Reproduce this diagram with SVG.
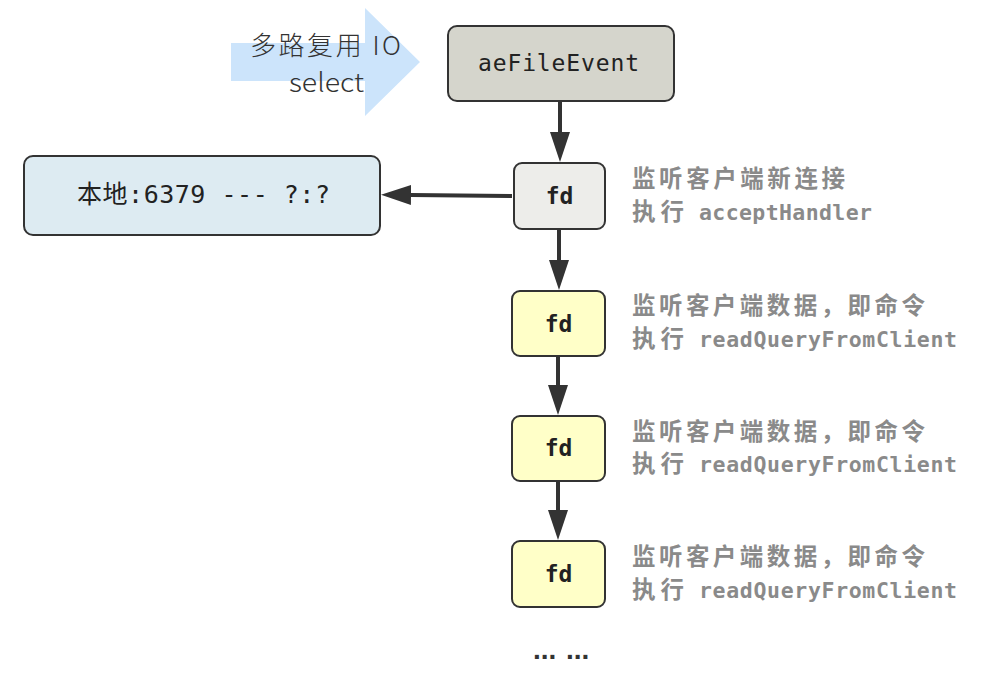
<svg xmlns="http://www.w3.org/2000/svg" width="984" height="675" viewBox="0 0 984 675">
<style>
.box{stroke:#333;stroke-width:2}
.mono{font-family:"DejaVu Sans Mono","Liberation Mono","Noto Sans CJK SC",monospace;fill:#222}
.lbl{font-family:"DejaVu Sans Mono","Liberation Mono","Noto Sans CJK SC",monospace;font-weight:bold;fill:#8a8a8a;font-size:21.5px}
.cjk{font-family:"Noto Sans CJK SC",sans-serif;font-size:23.5px;font-weight:bold}
.conn{stroke:#333;stroke-width:4;fill:none}
.io{font-family:"Noto Sans CJK SC",sans-serif;font-weight:300;font-size:26px;fill:#333}
</style>
<defs>
<marker id="ah" markerUnits="userSpaceOnUse" markerWidth="30" markerHeight="20" refX="0" refY="10" orient="auto" viewBox="0 0 30 20">
<path d="M0,0 L30,10 L0,20 z" fill="#333"/>
</marker>
</defs>
<rect width="984" height="675" fill="#fff"/>
<g id="io-arrow">
<path d="M231,43 H365 V8 L420,62 L365,116 V81 H231 z" fill="#cce4fb"/>
<text class="io" x="250" y="55" textLength="151" lengthAdjust="spacing">多路复用 IO</text>
<text class="io" x="289" y="92" textLength="75" lengthAdjust="spacingAndGlyphs">select</text>
</g>
<g id="aeFileEvent">
<rect class="box" x="448" y="26" width="226" height="75" rx="9" fill="#d5d5cc"/>
<text class="mono" x="478" y="71" font-size="23" textLength="161" lengthAdjust="spacing">aeFileEvent</text>
</g>
<g id="local">
<rect class="box" x="24" y="156" width="356" height="79" rx="9" fill="#ddebf2"/>
<text class="mono" x="77" y="203" font-size="25" textLength="253" lengthAdjust="spacing"><tspan font-family="'Noto Sans CJK SC',sans-serif">本地</tspan>:6379 --- ?:?</text>
</g>
<g id="fd1">
<rect class="box" x="514" y="163" width="91" height="66" rx="8" fill="#ededea"/>
<text class="mono" x="559.5" y="204" font-size="23" font-weight="bold" text-anchor="middle">fd</text>
<text class="lbl" y="187"><tspan x="632" class="cjk" textLength="213">监听客户端新连接</tspan></text>
<text class="lbl" y="220"><tspan x="632" class="cjk" textLength="52">执行</tspan><tspan x="699" textLength="173">acceptHandler</tspan></text>
</g>
<g id="fd2">
<rect class="box" x="512" y="291" width="93" height="65" rx="8" fill="#ffffc8"/>
<text class="mono" x="558.5" y="332" font-size="23" font-weight="bold" text-anchor="middle">fd</text>
<text class="lbl" y="314"><tspan x="632" class="cjk" textLength="293">监听客户端数据，即命令</tspan></text>
<text class="lbl" y="347"><tspan x="632" class="cjk" textLength="52">执行</tspan><tspan x="699" textLength="258">readQueryFromClient</tspan></text>
</g>
<g id="fd3">
<rect class="box" x="512" y="416" width="93" height="65" rx="8" fill="#ffffc8"/>
<text class="mono" x="558.5" y="456" font-size="23" font-weight="bold" text-anchor="middle">fd</text>
<text class="lbl" y="440"><tspan x="632" class="cjk" textLength="293">监听客户端数据，即命令</tspan></text>
<text class="lbl" y="472"><tspan x="632" class="cjk" textLength="52">执行</tspan><tspan x="699" textLength="258">readQueryFromClient</tspan></text>
</g>
<g id="fd4">
<rect class="box" x="512" y="541" width="93" height="66" rx="8" fill="#ffffc8"/>
<text class="mono" x="558.5" y="582" font-size="23" font-weight="bold" text-anchor="middle">fd</text>
<text class="lbl" y="565"><tspan x="632" class="cjk" textLength="293">监听客户端数据，即命令</tspan></text>
<text class="lbl" y="598"><tspan x="632" class="cjk" textLength="52">执行</tspan><tspan x="699" textLength="258">readQueryFromClient</tspan></text>
</g>
<g id="more">
<text y="659" font-family="'Liberation Sans',sans-serif" font-weight="bold" font-size="28" fill="#333"><tspan x="533">...</tspan><tspan x="566">...</tspan></text>
</g>
<g id="connectors">
<path class="conn" d="M560,101 V132" marker-end="url(#ah)"/>
<path class="conn" d="M512,196 L411,195" marker-end="url(#ah)"/>
<path class="conn" d="M559,229 V260" marker-end="url(#ah)"/>
<path class="conn" d="M558,356 V385" marker-end="url(#ah)"/>
<path class="conn" d="M558,481 V510" marker-end="url(#ah)"/>
</g>
</svg>
